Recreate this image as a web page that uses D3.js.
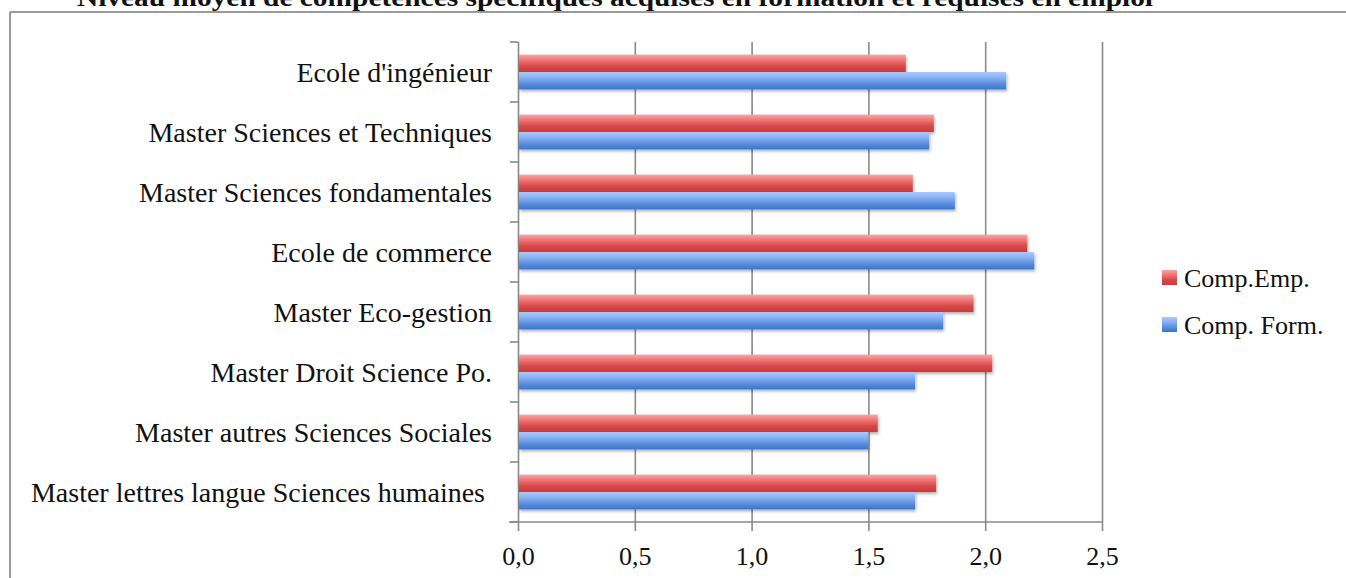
<!DOCTYPE html>
<html>
<head>
<meta charset="utf-8">
<script src="https://cdn.jsdelivr.net/npm/d3@7"></script>
<style>
    body { margin: 0; background: #fff; }
    svg { display: block; }
    text { font-family: 'Liberation Serif', 'Times New Roman', serif; fill: #111; }
</style>
</head>
<body>
<svg></svg>
<script>
//data
const categories = ["Ecole d'ingénieur", 'Master Sciences et Techniques', 'Master Sciences fondamentales',
    'Ecole de commerce', 'Master Eco-gestion', 'Master Droit Science Po.',
    'Master autres Sciences Sociales', 'Master lettres langue Sciences humaines ']
const compEmp = [1.66, 1.78, 1.69, 2.18, 1.95, 2.03, 1.54, 1.79]
const compForm = [2.09, 1.76, 1.87, 2.21, 1.82, 1.70, 1.50, 1.70]
const seriesNames = ['Comp.Emp.', 'Comp. Form.']
const xTicks = [0, 0.5, 1, 1.5, 2, 2.5]
const title = 'Niveau moyen de compétences spécifiques acquises en formation et requises en emploi'

const w = 1346
const h = 578
const plotLeft = 518
const plotRight = 1102
const plotTop = 42
const plotBottom = 522

const svg = d3.select('svg')
    .attr('width', w)
    .attr('height', h)

const xScale = d3.scaleLinear().domain([0, 2.5]).range([plotLeft, plotRight])
const yScale = d3.scaleBand().domain(categories).range([plotTop, plotBottom])
    .paddingInner(0.42).paddingOuter(0.21)
const subScale = d3.scaleBand().domain(seriesNames).range([0, yScale.bandwidth()])

//gradients for the glossy bars
const defs = svg.append('defs')
const grads = [
    { id: 'gRed', stops: ['#ffa3a3', '#f07373', '#d84848', '#c43c3c'] },
    { id: 'gBlue', stops: ['#a8cbff', '#86b1f5', '#5b8fdf', '#3c74c6'] }
]
grads.forEach((g) => {
    const lg = defs.append('linearGradient').attr('id', g.id)
        .attr('x1', 0).attr('y1', 0).attr('x2', 0).attr('y2', 1)
    g.stops.forEach((c, i) => {
        lg.append('stop').attr('offset', (i / (g.stops.length - 1)) * 100 + '%').attr('stop-color', c)
    })
})
const shadow = defs.append('filter').attr('id', 'shadow')
    .attr('x', '-5%').attr('y', '-20%').attr('width', '110%').attr('height', '160%')
shadow.append('feDropShadow').attr('dx', 1).attr('dy', 2).attr('stdDeviation', 1.5)
    .attr('flood-color', '#000').attr('flood-opacity', 0.3)

//outer frame
svg.append('line').attr('x1', 10).attr('x2', w).attr('y1', 12).attr('y2', 12)
    .attr('stroke', '#9a9a9a').attr('stroke-width', 2)
svg.append('line').attr('x1', 10).attr('x2', 10).attr('y1', 12).attr('y2', h)
    .attr('stroke', '#9a9a9a').attr('stroke-width', 2)

//title, cut at the top like the original
svg.append('text')
    .attr('x', 77)
    .attr('y', 6)
    .attr('textLength', 1076)
    .attr('lengthAdjust', 'spacingAndGlyphs')
    .style('font-size', '25px')
    .style('font-weight', 'bold')
    .text(title)

//vertical grid lines + bottom axis
const xAxis = d3.axisBottom(xScale)
    .tickValues(xTicks)
    .tickSize(-(plotBottom - plotTop))
    .tickFormat((d) => d3.format('.1f')(d).replace('.', ','))
const gx = svg.append('g')
    .attr('transform', 'translate(0,' + plotBottom + ')')
    .call(xAxis)
gx.select('.domain').remove()
gx.selectAll('.tick line')
    .attr('y2', -(plotBottom - plotTop))
    .attr('y1', 9)
    .attr('stroke', '#8a8a8a')
    .attr('stroke-width', 1.6)
gx.selectAll('.tick text')
    .attr('y', 43)
    .attr('dy', 0)
    .style('font-family', "'Liberation Serif', serif")
    .style('font-size', '26px')
    .attr('fill', '#111')
gx.append('line').attr('x1', 509).attr('x2', plotRight).attr('y1', 0).attr('y2', 0)
    .attr('stroke', '#8a8a8a').attr('stroke-width', 1.6)

//category ticks at band boundaries
const step = yScale.step()
const bounds = categories.map((c) => yScale(c) - step * 0.21).concat([plotBottom])
svg.selectAll('.ytick')
    .data(bounds)
    .enter()
    .append('line')
    .attr('class', 'ytick')
    .attr('x1', 510).attr('x2', plotLeft)
    .attr('y1', (d) => d).attr('y2', (d) => d)
    .attr('stroke', '#8a8a8a').attr('stroke-width', 1.6)

//category labels
svg.selectAll('.cat')
    .data(categories)
    .enter()
    .append('text')
    .attr('class', 'cat')
    .attr('x', 492)
    .attr('y', (d) => yScale(d) + yScale.bandwidth() / 2)
    .attr('dy', '0.35em')
    .attr('text-anchor', 'end')
    .style('white-space', 'pre')
    .style('font-size', '28px')
    .text((d) => d)

//bars
const rows = []
categories.forEach((c, i) => {
    rows.push({ cat: c, s: seriesNames[0], v: compEmp[i], fill: 'url(#gRed)' })
    rows.push({ cat: c, s: seriesNames[1], v: compForm[i], fill: 'url(#gBlue)' })
})
svg.selectAll('.bar')
    .data(rows)
    .enter()
    .append('rect')
    .attr('class', 'bar')
    .attr('x', xScale(0) + 1)
    .attr('y', (d) => yScale(d.cat) + subScale(d.s))
    .attr('width', (d) => xScale(d.v) - xScale(0) - 1)
    .attr('height', subScale.bandwidth())
    .attr('fill', (d) => d.fill)
    .attr('filter', 'url(#shadow)')

//legend
const legend = svg.append('g').attr('transform', 'translate(1162,270)')
seriesNames.forEach((name, i) => {
    legend.append('rect')
        .attr('x', 0).attr('y', i * 47)
        .attr('width', 15).attr('height', 15)
        .attr('fill', i == 0 ? 'url(#gRed)' : 'url(#gBlue)')
    legend.append('text')
        .attr('x', 22).attr('y', i * 47 + 17)
        .style('font-size', '26px')
        .text(name)
})
</script>
</body>
</html>
